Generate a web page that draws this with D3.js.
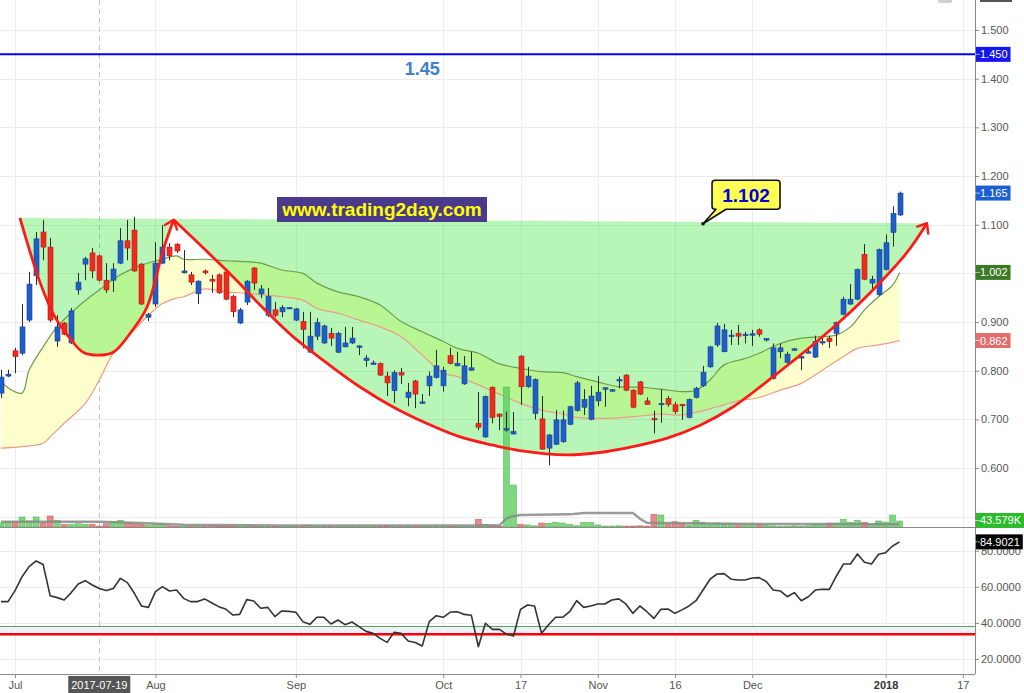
<!DOCTYPE html>
<html><head><meta charset="utf-8">
<script src="https://cdn.jsdelivr.net/npm/d3@7/dist/d3.min.js"></script>
<style>
html,body{margin:0;padding:0;background:#fff;}
svg{display:block;font-family:"Liberation Sans",Arial,Helvetica,sans-serif;}
</style></head><body>
<svg id="chart" width="1024" height="693"></svg>
<script>
// ---------- DATA ----------
const opens=[0.754,0.789,0.841,0.836,0.904,0.995,1.085,1.054,0.861,0.898,
0.857,0.966,1.019,1.042,1.036,0.986,0.986,1.021,1.067,1.089,
1.019,0.910,0.937,1.021,1.054,1.060,1.001,0.997,0.958,1.005,
0.988,0.997,1.003,0.953,0.898,0.941,1.011,0.958,0.914,0.925,
0.921,0.928,0.904,0.901,0.838,0.871,0.857,0.877,0.838,0.849,
0.857,0.849,0.821,0.814,0.815,0.789,0.759,0.796,0.745,0.779,
0.734,0.769,0.786,0.769,0.831,0.810,0.773,0.801,0.692,0.664,
0.766,0.711,0.679,0.670,0.830,0.767,0.712,0.701,0.641,0.649,
0.654,0.690,0.718,0.725,0.700,0.738,0.763,0.759,0.779,0.791,
0.760,0.777,0.738,0.702,0.731,0.743,0.730,0.731,0.704,0.745,
0.769,0.808,0.853,0.839,0.870,0.877,0.874,0.874,0.884,0.864,
0.784,0.839,0.817,0.843,0.826,0.838,0.828,0.859,0.867,0.877,
0.916,0.937,0.947,1.039,0.980,0.956,1.008,1.084,1.120];
const highs=[0.802,0.802,0.847,0.937,1.003,1.085,1.110,1.073,0.914,0.900,
0.929,1.001,1.034,1.052,1.038,1.021,1.021,1.093,1.110,1.116,
1.021,0.919,1.064,1.099,1.062,1.062,1.048,1.003,0.986,1.008,
0.997,1.000,1.005,0.956,0.929,0.986,1.013,0.976,0.970,0.941,
0.935,0.931,0.929,0.921,0.921,0.908,0.895,0.888,0.880,0.890,
0.890,0.852,0.832,0.821,0.817,0.798,0.801,0.806,0.775,0.781,
0.752,0.798,0.843,0.808,0.847,0.839,0.830,0.839,0.756,0.749,
0.768,0.712,0.716,0.715,0.832,0.808,0.784,0.748,0.670,0.719,
0.718,0.728,0.779,0.762,0.769,0.789,0.766,0.762,0.788,0.793,
0.762,0.779,0.745,0.718,0.762,0.748,0.736,0.732,0.743,0.767,
0.810,0.851,0.898,0.896,0.884,0.894,0.880,0.884,0.887,0.867,
0.856,0.856,0.839,0.847,0.830,0.843,0.872,0.872,0.872,0.901,
0.952,0.978,1.010,1.060,0.995,1.051,1.080,1.138,1.168];
const lows=[0.744,0.787,0.795,0.832,0.900,0.976,1.027,0.900,0.849,0.873,
0.855,0.956,0.986,0.990,0.984,0.960,0.962,1.019,1.027,1.003,
0.935,0.902,0.931,1.019,1.027,1.042,1.000,0.976,0.937,0.998,
0.960,0.958,0.945,0.910,0.896,0.935,0.966,0.949,0.910,0.910,
0.910,0.927,0.902,0.846,0.837,0.863,0.855,0.851,0.836,0.848,
0.855,0.832,0.808,0.813,0.789,0.748,0.734,0.773,0.727,0.723,
0.732,0.748,0.784,0.757,0.813,0.809,0.771,0.800,0.678,0.662,
0.692,0.678,0.675,0.669,0.730,0.765,0.700,0.637,0.606,0.647,
0.652,0.688,0.716,0.709,0.698,0.727,0.726,0.757,0.764,0.758,
0.723,0.750,0.730,0.671,0.693,0.726,0.711,0.699,0.702,0.743,
0.767,0.806,0.849,0.838,0.853,0.853,0.856,0.851,0.870,0.860,
0.782,0.826,0.815,0.841,0.801,0.836,0.826,0.853,0.847,0.851,
0.914,0.935,0.945,0.986,0.967,0.954,1.006,1.055,1.118];
const closes=[0.787,0.793,0.829,0.890,0.978,1.071,1.054,0.904,0.890,0.875,
0.923,0.982,1.030,1.005,0.986,0.966,1.009,1.067,1.052,1.005,
0.937,0.916,1.021,1.054,1.036,1.046,1.005,0.982,0.984,1.001,
0.984,0.960,0.947,0.921,0.925,0.984,0.980,0.968,0.953,0.914,
0.930,0.930,0.927,0.885,0.871,0.899,0.892,0.867,0.877,0.857,
0.867,0.851,0.826,0.816,0.791,0.775,0.796,0.791,0.756,0.752,
0.736,0.789,0.810,0.801,0.815,0.815,0.810,0.806,0.684,0.747,
0.704,0.706,0.681,0.675,0.767,0.789,0.782,0.639,0.668,0.699,
0.699,0.726,0.775,0.741,0.748,0.756,0.765,0.761,0.782,0.760,
0.725,0.752,0.731,0.699,0.733,0.731,0.716,0.729,0.741,0.764,
0.797,0.849,0.892,0.884,0.873,0.871,0.875,0.876,0.875,0.866,
0.847,0.847,0.834,0.845,0.829,0.839,0.860,0.860,0.860,0.899,
0.947,0.947,1.008,0.988,0.988,1.049,1.063,1.123,1.165];
// volume in thousands
const volumes=[29,38,38,73,44,73,31,80,49,20,
20,24,20,20,7,24,38,49,31,24,
20,15,20,20,9,5,8,4,6,3,
12,6,8,5,4,9,6,3,7,5,
8,4,6,9,12,5,4,7,3,6,
5,8,4,7,5,11,6,4,7,5,
9,6,4,8,5,7,4,6,56,20,
15,7,1016,305,20,15,9,29,27,34,
29,20,9,34,34,15,7,7,9,7,
7,9,7,92,87,24,38,24,15,49,
31,22,29,20,24,20,15,20,20,15,
9,7,7,9,7,9,15,20,29,29,
56,34,49,34,20,44,36,87,43.579];
const volMaIdx=[0,14,20,26,39,71,72,73,74,81,83,90,91,92,104,113,128];
const volMaVal=[38,38,29,16,12,12,62,80,87,92,102,102,60,31,24,22,20];
const rsi=[51.8,51.8,57.9,65.6,71.2,74.3,72.4,55.1,54.0,52.7,
56.8,61.6,63.4,61.0,59.1,57.9,59.1,64.7,62.3,56.4,
49.4,48.6,57.3,60.1,57.7,58.2,53.6,51.8,51.8,53.3,
51.2,49.0,47.7,44.4,44.7,52.9,52.1,48.1,48.6,43.5,
46.6,46.4,45.9,40.7,39.2,43.1,43.1,39.4,41.6,39.0,
40.5,37.9,35.3,34.2,31.4,29.2,34.8,34.2,30.0,29.1,
27.2,40.7,44.0,43.1,46.0,46.2,44.7,44.2,26.8,39.8,
36.4,36.4,33.8,32.7,47.5,49.9,49.4,34.2,39.0,43.1,
43.1,46.2,52.3,48.6,49.4,50.5,50.5,52.7,53.3,50.5,
45.3,49.4,46.2,42.5,47.5,47.7,45.3,47.2,49.4,52.3,
58.2,64.2,67.1,67.3,64.2,63.8,63.8,64.9,65.1,62.9,
58.2,57.7,54.5,56.8,52.3,54.5,58.2,58.6,58.6,66.0,
72.6,72.6,78.2,73.6,72.6,78.0,78.9,82.6,84.9021];
const rsiLevelHigh=38, rsiLevelLow=33.7;
// moving averages (fast = green, slow = salmon)
const maFastIdx=[0,1,3,4,6,8,11,14,17,20,23,25,26,29,32,35,37,40,43,45,48,51,54,57,60,63,65,68,71,74,77,80,82,85,88,91,94,97,99,101,103,106,108,111,114,117,119,121,123,125,127,128];
const maFastVal=[0.779,0.765,0.754,0.801,0.849,0.890,0.932,0.966,0.997,1.017,1.029,1.036,1.029,1.029,1.026,1.024,1.021,1.007,1.000,0.980,0.962,0.952,0.935,0.901,0.880,0.860,0.846,0.836,0.814,0.805,0.798,0.796,0.788,0.777,0.767,0.766,0.762,0.757,0.760,0.781,0.812,0.825,0.836,0.856,0.867,0.870,0.873,0.890,0.925,0.952,0.976,1.002];
const maSlowIdx=[0,3,6,7,9,12,14,16,19,21,23,25,26,29,32,35,37,40,43,45,48,51,54,57,60,63,65,68,71,74,77,80,82,85,88,91,94,97,100,102,105,108,111,114,117,120,122,125,128];
const maSlowVal=[0.641,0.644,0.651,0.664,0.692,0.733,0.781,0.836,0.884,0.914,0.938,0.949,0.952,0.968,0.962,0.959,0.956,0.952,0.945,0.928,0.918,0.904,0.890,0.870,0.832,0.795,0.788,0.771,0.752,0.733,0.719,0.711,0.704,0.702,0.703,0.707,0.711,0.709,0.718,0.726,0.738,0.745,0.760,0.774,0.801,0.829,0.846,0.853,0.862];
// cup pattern annotation (bar index, price)
const cupLeftIdx=[2.7,5.6,7.7,9.8,11.7,13.8,16.0,18.4,20.8,23.1,24.6];
const cupLeftVal=[1.114,0.980,0.910,0.867,0.838,0.832,0.838,0.877,0.931,1.048,1.110];
const cupRightIdx=[24.6,33.05,36.9,41.6,46.4,51.1,55.8,60.6,65.4,70.1,73.9,80.6,85.3,90.0,94.8,99.6,104.3,110.0,114.8,119.5,124.2,129.0,131.9];
const cupRightVal=[1.110,0.993,0.935,0.870,0.816,0.767,0.726,0.692,0.664,0.647,0.636,0.627,0.632,0.644,0.661,0.688,0.726,0.788,0.843,0.901,0.966,1.042,1.103];
const targetLevel=1.45, targetText="1.45";
const calloutIdx=100, calloutVal=1.102, calloutText="1.102";
const watermark="www.trading2day.com";
// axes
const xTickIdx=[2,22,42,63,74,85,96,107,126,137];
const xTickLabels=["Jul","Aug","Sep","Oct","17","Nov","16","Dec","2018","17"];
const markerIdx=14, markerLabel="2017-07-19";
const priceTicks=[0.5,0.6,0.7,0.8,0.9,1.0,1.1,1.2,1.3,1.4,1.5];
const rsiTicks=[20,40,60,80];

// ---------- LAYOUT ----------
const svg=d3.select("#chart");
const XR=975, MB=527, RT=529, RB=674;
const x=d3.scaleLinear().domain([-0.142,138.74]).range([0,XR]);
const yP=d3.scaleLinear().domain([0.4789,1.5617]).range([MB,0]);
const yV=d3.scaleLinear().domain([0,1016]).range([MB,387]);
const yR=d3.scaleLinear().domain([20,80]).range([659,550.7]);

const defs=svg.append("defs");
defs.append("clipPath").attr("id","clipMain").append("rect").attr("x",0).attr("y",0).attr("width",XR).attr("height",MB);
defs.append("clipPath").attr("id","clipRsi").append("rect").attr("x",0).attr("y",RT).attr("width",XR).attr("height",RB-RT);
defs.append("marker").attr("id","arrow").attr("viewBox","0 0 16 16").attr("refX",14).attr("refY",8)
  .attr("markerWidth",16).attr("markerHeight",16).attr("markerUnits","userSpaceOnUse").attr("orient","auto")
  .append("path").attr("d","M6,1.5 L14,8 L6,14.5").attr("fill","none").attr("stroke","#ff1a1a")
  .attr("stroke-width",2.4).attr("stroke-linecap","round").attr("stroke-linejoin","round");

// grid
const grid=svg.append("g");
grid.selectAll(".hp").data(priceTicks).join("line")
  .attr("x1",0).attr("x2",XR).attr("y1",d=>Math.round(yP(d))+0.5).attr("y2",d=>Math.round(yP(d))+0.5)
  .attr("stroke","#ededed");
grid.selectAll(".hr").data(rsiTicks).join("line")
  .attr("x1",0).attr("x2",XR).attr("y1",d=>Math.round(yR(d))+0.5).attr("y2",d=>Math.round(yR(d))+0.5)
  .attr("stroke","#ededed");
grid.selectAll(".vx").data(xTickIdx).join("line")
  .attr("x1",d=>Math.round(x(d))+0.5).attr("x2",d=>Math.round(x(d))+0.5).attr("y1",0).attr("y2",RB)
  .attr("stroke","#ededed");
svg.append("line").attr("x1",Math.round(x(markerIdx))+0.5).attr("x2",Math.round(x(markerIdx))+0.5)
  .attr("y1",0).attr("y2",RB).attr("stroke","#c4c4c4").attr("stroke-dasharray","5,4");

const gMain=svg.append("g").attr("clip-path","url(#clipMain)");
const cr=d3.curveCatmullRom.alpha(0.5);
const lineP=d3.line().x(d=>x(d[0])).y(d=>yP(d[1])).curve(cr);
const fastPts=maFastIdx.map((d,i)=>[d,maFastVal[i]]);
const slowPts=maSlowIdx.map((d,i)=>[d,maSlowVal[i]]);
// MA band
gMain.append("path").attr("d",lineP(fastPts)+lineP(slowPts.slice().reverse()).replace(/^M/,"L")+"Z")
  .attr("fill","#ffffc4").attr("fill-opacity",0.85);
// cup fill
const leftPts=cupLeftIdx.map((d,i)=>[d,cupLeftVal[i]]);
const rightPts=cupRightIdx.map((d,i)=>[d,cupRightVal[i]]);
gMain.append("path").attr("d",lineP(leftPts)+lineP(rightPts).replace(/^M/,"L")+"Z")
  .attr("fill","#00dd00").attr("fill-opacity",0.28);
// MA lines
gMain.append("path").attr("d",lineP(slowPts)).attr("fill","none").attr("stroke","#f09a86").attr("stroke-width",1.2);
gMain.append("path").attr("d",lineP(fastPts)).attr("fill","none").attr("stroke","#6c9c4c").attr("stroke-width",1.2);

// volume
const up=i=>closes[i]>=opens[i];
gMain.selectAll(".vol").data(volumes).join("rect")
  .attr("x",(d,i)=>x(i)-3).attr("width",6)
  .attr("y",d=>yV(d)).attr("height",d=>MB-yV(d))
  .attr("fill",(d,i)=>up(i)?"#5ccf5c":"#e46a6a").attr("fill-opacity",0.8)
  .attr("stroke",(d,i)=>up(i)?"#3aa83a":"#c04848").attr("stroke-width",0.6).attr("stroke-opacity",0.7);
gMain.append("path").attr("d",d3.line().x((d,i)=>x(volMaIdx[i])).y(d=>yV(d))(volMaVal))
  .attr("fill","none").attr("stroke","#8a8a8a").attr("stroke-width",2.4).attr("stroke-opacity",0.85);

// candles
const idx=d3.range(opens.length);
const cg=gMain.append("g");
cg.selectAll(".wick").data(idx).join("line")
  .attr("x1",i=>Math.round(x(i))+0.5).attr("x2",i=>Math.round(x(i))+0.5)
  .attr("y1",i=>yP(highs[i])).attr("y2",i=>yP(lows[i]))
  .attr("stroke","#2a2a2a").attr("stroke-width",1);
cg.selectAll(".body").data(idx).join("rect")
  .attr("x",i=>Math.round(x(i))-2).attr("width",5)
  .attr("y",i=>Math.min(yP(opens[i]),yP(closes[i])))
  .attr("height",i=>Math.max(1.5,Math.abs(yP(opens[i])-yP(closes[i]))))
  .attr("fill",i=>up(i)?"#1f5ec9":"#ef2b1f")
  .attr("stroke",i=>up(i)?"#17428c":"#b01c12").attr("stroke-width",0.6);

// cup lines with arrows
gMain.append("path").attr("d",lineP(leftPts)).attr("fill","none").attr("stroke","#ff1a1a")
  .attr("stroke-width",2.8).attr("marker-end","url(#arrow)");
gMain.append("path").attr("d",lineP(rightPts)).attr("fill","none").attr("stroke","#ff1a1a")
  .attr("stroke-width",2.8).attr("marker-end","url(#arrow)");

// target line
svg.append("line").attr("x1",0).attr("x2",XR).attr("y1",yP(targetLevel)).attr("y2",yP(targetLevel))
  .attr("stroke","#0000ff").attr("stroke-width",2);
svg.append("text").attr("x",x(60)).attr("y",yP(targetLevel)+21).attr("text-anchor","middle")
  .attr("font-size",18).attr("font-weight","bold").attr("fill","#4080d0").text(targetText);

// watermark
svg.append("rect").attr("x",277).attr("y",197).attr("width",210).attr("height",25).attr("fill","#4b3a8c");
svg.append("text").attr("x",382).attr("y",216).attr("text-anchor","middle").attr("font-size",19)
  .attr("font-weight","bold").attr("fill","#ffff00").text(watermark);

// callout
const tx=x(calloutIdx), ty=yP(calloutVal);
const bx=tx+9, byTop=ty-43.5, bw=68, bh=29;
const cpath=`M${bx+3},${byTop} L${bx+bw-3},${byTop} Q${bx+bw},${byTop} ${bx+bw},${byTop+3} L${bx+bw},${byTop+bh-3} Q${bx+bw},${byTop+bh} ${bx+bw-3},${byTop+bh} L${bx+14},${byTop+bh} L${tx},${ty} L${bx+4},${byTop+bh} L${bx+3},${byTop+bh} Q${bx},${byTop+bh} ${bx},${byTop+bh-3} L${bx},${byTop+3} Q${bx},${byTop} ${bx+3},${byTop} Z`;
svg.append("path").attr("d",cpath).attr("fill","#ffff55").attr("stroke","#111").attr("stroke-width",1.6).attr("stroke-linejoin","round");
svg.append("circle").attr("cx",tx).attr("cy",ty).attr("r",1.8).attr("fill","#111");
svg.append("text").attr("x",bx+bw/2).attr("y",byTop+22).attr("text-anchor","middle").attr("font-size",19)
  .attr("font-weight","bold").attr("fill","#0000d8").text(calloutText);

// RSI panel
const gR=svg.append("g").attr("clip-path","url(#clipRsi)");
gR.append("rect").attr("x",0).attr("width",XR).attr("y",yR(rsiLevelHigh)).attr("height",yR(rsiLevelLow)-yR(rsiLevelHigh)).attr("fill","#e9f1fa");
gR.append("line").attr("x1",0).attr("x2",XR).attr("y1",yR(rsiLevelHigh)).attr("y2",yR(rsiLevelHigh)).attr("stroke","#6a9a5a").attr("stroke-width",1.2);
gR.append("line").attr("x1",0).attr("x2",XR).attr("y1",yR(rsiLevelLow)).attr("y2",yR(rsiLevelLow)).attr("stroke","#ff0000").attr("stroke-width",2.6);
gR.append("path").attr("d",d3.line().x((d,i)=>x(i)).y(d=>yR(d))(rsi)).attr("fill","none")
  .attr("stroke","#333").attr("stroke-width",1.6).attr("stroke-linejoin","round");

// frame lines
svg.append("line").attr("x1",0).attr("x2",1024).attr("y1",527.5).attr("y2",527.5).attr("stroke","#8a8a8a");
svg.append("line").attr("x1",XR+0.5).attr("x2",XR+0.5).attr("y1",0).attr("y2",RB).attr("stroke","#8a8a8a");
svg.append("line").attr("x1",0).attr("x2",XR).attr("y1",RB+0.5).attr("y2",RB+0.5).attr("stroke","#8a8a8a");

// axes
function styleAxis(g){g.select(".domain").remove();g.selectAll("line").attr("stroke","#8a8a8a");
  g.selectAll("text").attr("fill","#555").style("font-size","11px").style("font-family","'Liberation Sans',Arial,sans-serif");}
svg.append("g").attr("transform",`translate(${XR},0)`)
  .call(d3.axisRight(yP).tickValues(priceTicks).tickFormat(d3.format(".3f")).tickSize(4).tickPadding(2)).call(styleAxis);
svg.append("g").attr("transform",`translate(${XR},0)`)
  .call(d3.axisRight(yR).tickValues(rsiTicks).tickFormat(d3.format(".4f")).tickSize(4).tickPadding(2)).call(styleAxis);
const bax=svg.append("g").attr("transform",`translate(0,${RB})`)
  .call(d3.axisBottom(x).tickValues(xTickIdx).tickFormat((d,i)=>xTickLabels[i]).tickSize(4).tickPadding(3)).call(styleAxis);
bax.selectAll("text").filter(function(){return this.textContent==="2018";}).attr("font-weight","bold").attr("fill","#333");

// marker date label
const mlx=x(markerIdx);
svg.append("rect").attr("x",mlx-31).attr("y",676).attr("width",62).attr("height",17).attr("fill","#555");
svg.append("text").attr("x",mlx).attr("y",688.5).attr("text-anchor","middle").attr("font-size",11).attr("fill","#fff").text(markerLabel);

// top stubs
svg.append("rect").attr("x",980).attr("y",-10).attr("width",32).attr("height",12).attr("fill","#555");
svg.append("rect").attr("x",938).attr("y",-8).attr("width",14).attr("height",11).attr("rx",2).attr("fill","#d0d0d0");

// value tags
const last=opens.length-1;
const tags=[
 {y:yP(targetLevel),t:d3.format(".3f")(targetLevel),c:"#1515ee"},
 {y:yP(closes[last]),t:d3.format(".3f")(closes[last]),c:"#1c5ed4"},
 {y:yP(maFastVal[maFastVal.length-1]),t:d3.format(".3f")(maFastVal[maFastVal.length-1]),c:"#3b7a24"},
 {y:yP(maSlowVal[maSlowVal.length-1]),t:d3.format(".3f")(maSlowVal[maSlowVal.length-1]),c:"#e36d6d"},
 {y:yV(volumes[last])-0.5,t:d3.format(".3f")(volumes[last])+"K",c:"#2dbb2d"},
 {y:yR(rsi[last]),t:d3.format(".4f")(rsi[last]),c:"#000"}
];
tags.forEach(tg=>{
  const g=svg.append("g");
  const r=g.append("rect").attr("x",976).attr("y",tg.y-7.5).attr("height",15).attr("fill",tg.c);
  const t=g.append("text").attr("x",980).attr("y",tg.y+4).attr("font-size",11).attr("fill","#fff").text(tg.t);
  r.attr("width",t.node().getComputedTextLength()+7);
  g.append("line").attr("x1",975).attr("x2",980).attr("y1",tg.y).attr("y2",tg.y).attr("stroke","#fff").attr("stroke-opacity",0.6);
});
</script>
</body></html>
